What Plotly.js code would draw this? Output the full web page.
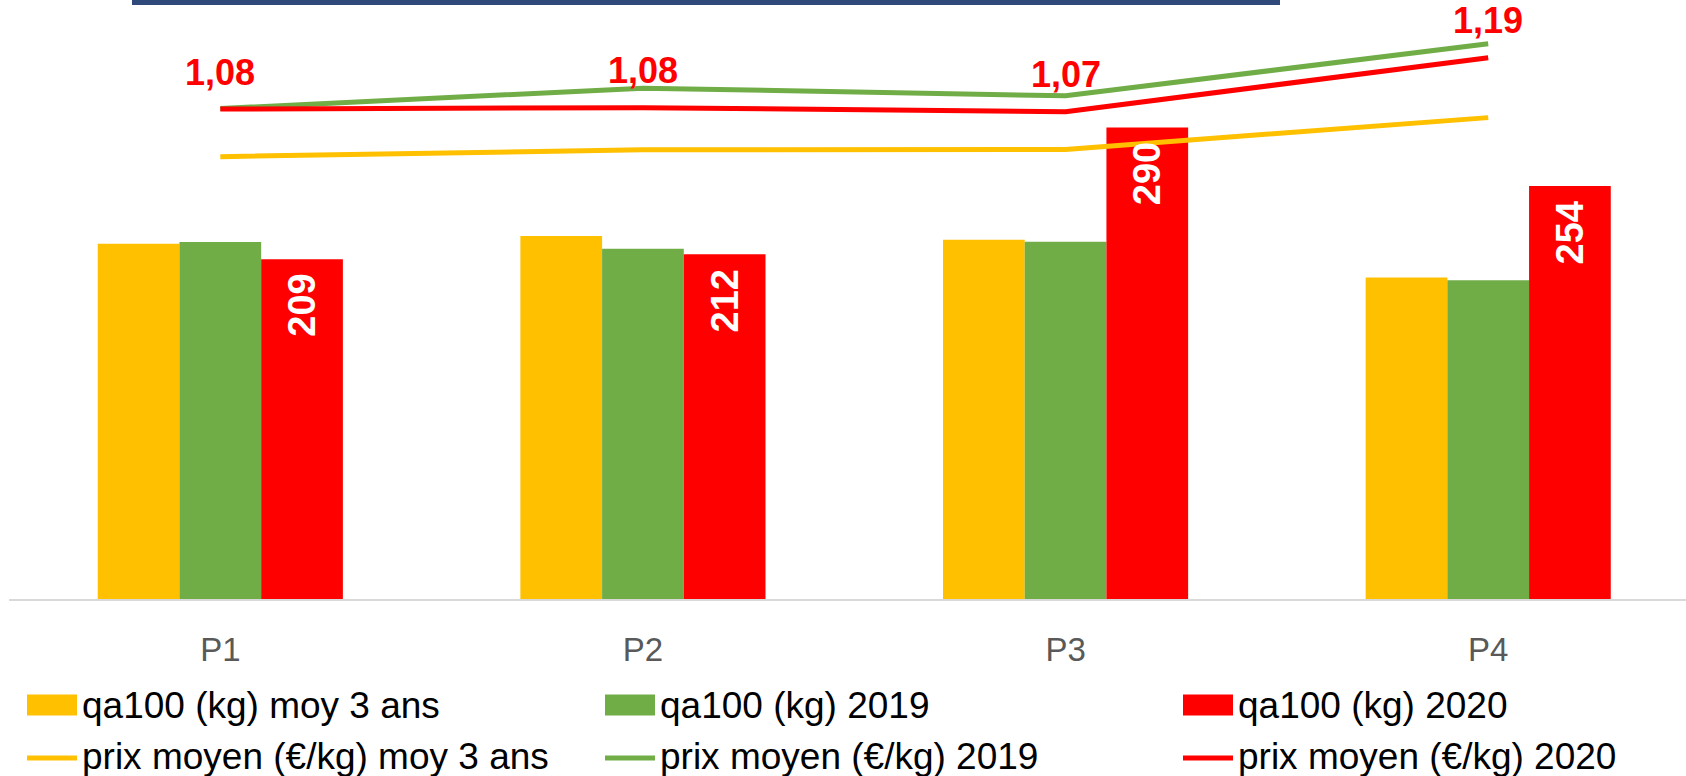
<!DOCTYPE html>
<html>
<head>
<meta charset="utf-8">
<script src="https://cdn.plot.ly/plotly-3.0.1.min.js"></script>
<style>html,body{margin:0;padding:0;background:#fff;overflow:hidden}</style>
</head>
<body>
<div id="chart" style="width:1686px;height:776px"></div>
<script>
// ---- data ----
const categories = ['P1', 'P2', 'P3', 'P4'];
const qaMoy3ans = [218.5, 223.2, 221.0, 197.8];
const qa2019    = [219.6, 215.4, 219.7, 196.0];
const qa2020    = [209, 212, 290, 254];
const prixMoy3ans = [0.975, 0.990, 0.991, 1.061];
const prix2019    = [1.081, 1.126, 1.109, 1.224];
const prix2020    = [1.080, 1.083, 1.074, 1.193];
const barNames  = ['qa100 (kg) moy 3 ans', 'qa100 (kg) 2019', 'qa100 (kg) 2020'];
const lineNames = ['prix moyen (€/kg) moy 3 ans', 'prix moyen (€/kg) 2019', 'prix moyen (€/kg) 2020'];

// ---- styles ----
const colors = ['#FFC000', '#70AD47', '#FF0000'];
const FONT = 'Liberation Sans, Arial, sans-serif';
const W = 1686, H = 776;
const M = {l: 9, r: 0, t: 0, b: 177};
const plotW = W - M.l - M.r, plotH = H - M.t - M.b;
const xRange = [-0.5, 3.468];
const bargap = 0.42;

const barSeries = [qaMoy3ans, qa2019, qa2020];
const lineSeries = [prixMoy3ans, prix2019, prix2020];

const traces = [];
barSeries.forEach((vals, i) => {
  traces.push({
    type: 'bar', x: categories, y: vals, name: barNames[i],
    marker: {color: colors[i], line: {width: 0}},
    hoverinfo: 'skip', showlegend: false
  });
});
lineSeries.forEach((vals, i) => {
  traces.push({
    type: 'scatter', mode: 'lines', x: categories, y: vals, name: lineNames[i],
    yaxis: 'y2', line: {color: colors[i], width: 5},
    hoverinfo: 'skip', showlegend: false, cliponaxis: false
  });
});

// pixel -> paper helpers (for legend/decoration only)
const xp = px => (px - M.l) / plotW;
const yp = py => (M.t + plotH - py) / plotH;

const annotations = [];
const shapes = [];

// line labels (prix 2020)
const fmt = v => v.toFixed(2).replace('.', ',');
prix2020.forEach((v, i) => {
  annotations.push({
    x: categories[i], y: v, xref: 'x', yref: 'y2', text: fmt(v),
    showarrow: false, yshift: 37, xanchor: 'center', yanchor: 'middle',
    font: {family: FONT, size: 36, color: '#FF0000', weight: 'bold'}
  });
});

// bar labels (qa100 2020), rotated inside the red bars
const pxPerCat = plotW / (xRange[1] - xRange[0]);
const barW = (1 - bargap) / 3 * pxPerCat;
qa2020.forEach((v, i) => {
  annotations.push({
    x: categories[i], y: v, xref: 'x', yref: 'y', text: String(v),
    showarrow: false, textangle: -90, xshift: barW, yshift: -13,
    xanchor: 'center', yanchor: 'top',
    font: {family: FONT, size: 38, color: '#FFFFFF', weight: 'bold'}
  });
});

// custom legend
const colX = [27, 605, 1183];
const rowY = [705, 756];
const symW = 50;
barNames.forEach((n, i) => {
  shapes.push({
    type: 'rect', xref: 'paper', yref: 'paper',
    x0: xp(colX[i]), x1: xp(colX[i] + symW), y0: yp(rowY[0] + 10.5), y1: yp(rowY[0] - 10.5),
    fillcolor: colors[i], line: {width: 0}
  });
  annotations.push({
    xref: 'paper', yref: 'paper', x: xp(colX[i] + symW + 3), y: yp(rowY[0]),
    xanchor: 'left', yanchor: 'middle', showarrow: false, text: n,
    font: {family: FONT, size: 37, color: '#000000'}
  });
});
lineNames.forEach((n, i) => {
  shapes.push({
    type: 'line', xref: 'paper', yref: 'paper',
    x0: xp(colX[i]), x1: xp(colX[i] + symW), y0: yp(rowY[1] + 2), y1: yp(rowY[1] + 2),
    line: {color: colors[i], width: 5}
  });
  annotations.push({
    xref: 'paper', yref: 'paper', x: xp(colX[i] + symW + 3), y: yp(rowY[1]),
    xanchor: 'left', yanchor: 'middle', showarrow: false, text: n,
    font: {family: FONT, size: 37, color: '#000000'}
  });
});

// dark blue rule at the top (cropped title underline)
shapes.push({
  type: 'rect', xref: 'paper', yref: 'paper',
  x0: xp(132), x1: xp(1280), y0: yp(5), y1: yp(-3),
  fillcolor: '#2F4A7A', line: {width: 0}
});

const layout = {
  width: W, height: H, margin: M,
  paper_bgcolor: '#ffffff', plot_bgcolor: '#ffffff',
  showlegend: false, barmode: 'group', bargap: bargap, bargroupgap: 0,
  font: {family: FONT},
  xaxis: {
    type: 'category', range: xRange, showgrid: false, zeroline: false,
    showline: true, linecolor: '#D9D9D9', linewidth: 2, ticks: '',
    ticklabelstandoff: 20,
    tickfont: {family: FONT, size: 33, color: '#595959'}, fixedrange: true
  },
  yaxis: {range: [0, plotH / 1.626], visible: false, fixedrange: true},
  yaxis2: {range: [0, plotH / 453.7], overlaying: 'y', side: 'right', visible: false, fixedrange: true},
  annotations: annotations,
  shapes: shapes
};

Plotly.newPlot('chart', traces, layout, {displayModeBar: false, staticPlot: true});
</script>
</body>
</html>
